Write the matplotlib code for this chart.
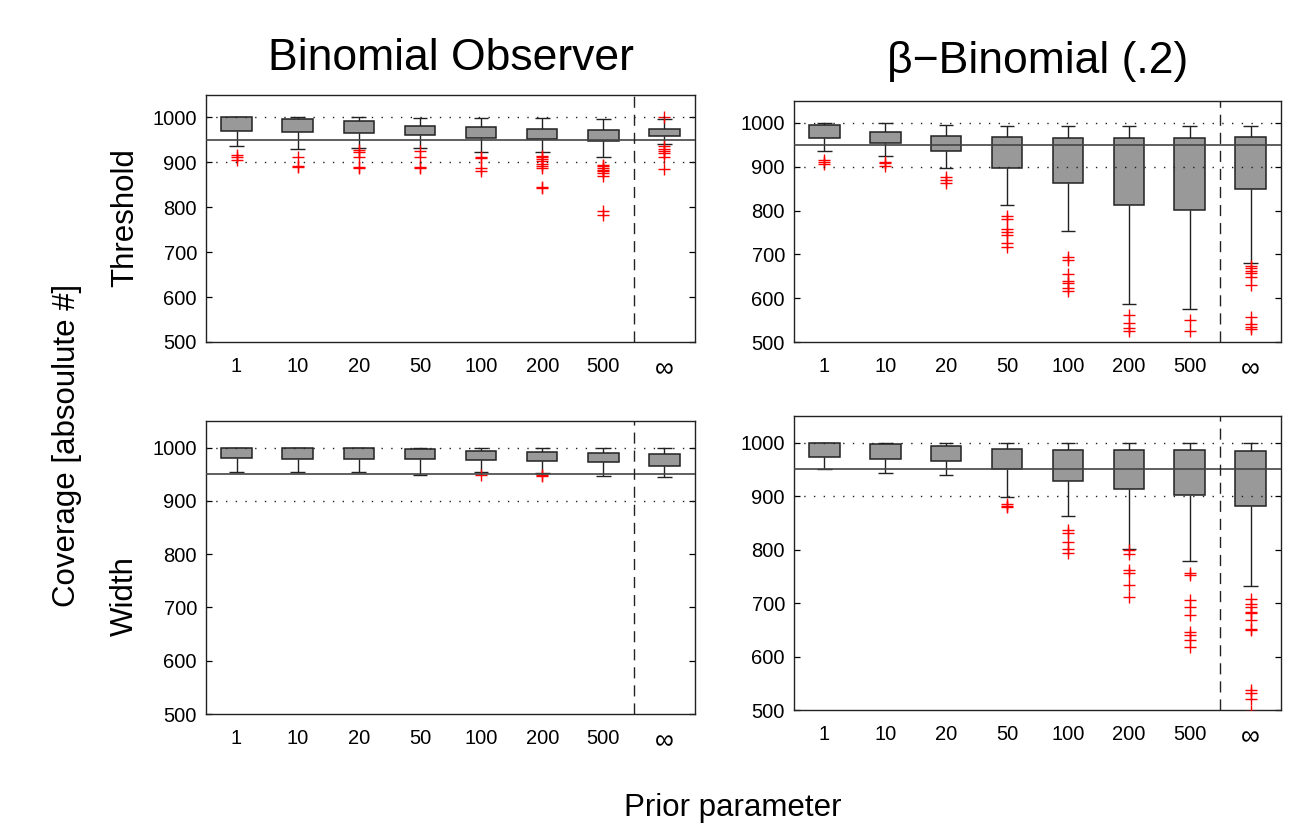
import matplotlib
matplotlib.use('Agg')
import matplotlib.pyplot as plt
import numpy as np

plt.rcParams['font.family'] = ['Liberation Sans', 'DejaVu Sans']

categories = ['1', '10', '20', '50', '100', '200', '500', '\u221e']

# ---- Binomial Observer, Threshold ----
bo_thr_q1 = [969, 967, 965, 960, 955, 951, 948, 959]
bo_thr_q3 = [1000, 996, 991, 982, 978, 974, 972, 975]
bo_thr_lo = [936, 930, 931, 931, 922, 922, 911, 942]
bo_thr_hi = [1000, 1000, 1000, 999, 998, 998, 997, 996]
bo_thr_out = [
    [916, 912, 905],
    [913, 893, 890],
    [928, 924, 913, 890, 888],
    [926, 913, 890, 888],
    [912, 910, 888, 880],
    [915, 911, 908, 902, 897, 893, 888, 845, 842],
    [895, 891, 887, 884, 880, 876, 870, 792, 782],
    [1000, 937, 930, 925, 921, 912, 886],
]

# ---- beta-Binomial (.2), Threshold ----
bb_thr_q1 = [966, 955, 937, 897, 862, 813, 802, 850]
bb_thr_q3 = [996, 979, 970, 967, 966, 966, 966, 967]
bb_thr_lo = [936, 925, 896, 813, 754, 586, 576, 680]
bb_thr_hi = [1000, 1000, 995, 993, 993, 993, 993, 993]
bb_thr_out = [
    [915, 911, 906],
    [911, 908, 902],
    [876, 870, 862],
    [788, 780, 758, 752, 745, 725, 716],
    [694, 686, 656, 639, 635, 624, 616],
    [561, 543, 533, 524],
    [551, 525],
    [673, 668, 662, 658, 648, 631, 556, 540, 535, 529],
]

# ---- Binomial Observer, Width ----
bo_wid_q1 = [980, 979, 978, 978, 976, 975, 973, 966]
bo_wid_q3 = [1000, 1000, 999, 998, 994, 992, 990, 988]
bo_wid_lo = [954, 954, 954, 948, 954, 952, 947, 944]
bo_wid_hi = [1000, 1000, 1000, 1000, 1000, 1000, 1000, 1000]
bo_wid_out = [
    [], [], [], [],
    [949],
    [948, 947],
    [], [],
]

# ---- beta-Binomial (.2), Width ----
bb_wid_q1 = [973, 970, 966, 951, 929, 913, 902, 882]
bb_wid_q3 = [1000, 998, 993, 989, 987, 987, 987, 984]
bb_wid_lo = [950, 944, 939, 899, 862, 802, 779, 732]
bb_wid_hi = [1000, 1000, 1000, 1000, 1000, 1000, 1000, 1000]
bb_wid_out = [
    [], [], [],
    [885, 882, 879],
    [837, 832, 814, 802, 794],
    [799, 791, 761, 757, 734, 712],
    [756, 752, 706, 693, 678, 646, 640, 631, 617],
    [707, 699, 692, 684, 681, 669, 652, 649, 537, 531, 521, 499],
]

W, H = 1306, 827
fig = plt.figure(figsize=(W / 100, H / 100), dpi=100)


def add_ax(left, right, top, bottom):
    return fig.add_axes([left / W, 1 - bottom / H, (right - left) / W, (bottom - top) / H])


def draw_panel(ax, q1, q3, lo, hi, out):
    x = np.arange(1, len(categories) + 1)
    ec = '#222222'
    ax.vlines(x, lo, q1, color=ec, lw=1.0, zorder=2)
    ax.vlines(x, q3, hi, color=ec, lw=1.0, zorder=2)
    ax.hlines(lo, x - 0.12, x + 0.12, color=ec, lw=1.0, zorder=2)
    ax.hlines(hi, x - 0.12, x + 0.12, color=ec, lw=1.0, zorder=2)
    ax.bar(x, np.subtract(q3, q1), bottom=q1, width=0.5, color='#999999',
           edgecolor=ec, linewidth=1.1, zorder=3)
    for xi, o in zip(x, out):
        if len(o):
            ax.plot([xi] * len(o), o, linestyle='none', marker='+', color='red',
                    ms=9, mew=1.0, zorder=4, clip_on=True)
    ax.axhline(950, color='#444444', lw=1.2, zorder=5)
    for yv in (1000, 900):
        ax.axhline(yv, color='#222222', lw=1.0, linestyle=(0, (1, 6)), zorder=5)
    ax.axvline(7.5, color='#222222', lw=1.0, linestyle=(0, (8, 5)), zorder=5)
    ax.set_xlim(0.5, 8.5)
    ax.set_ylim(500, 1050)
    ax.set_xticks(x)
    ax.set_xticklabels(categories)
    ax.get_xticklabels()[-1].set_fontsize(19)
    ax.set_yticks([500, 600, 700, 800, 900, 1000])
    ax.tick_params(axis='x', length=0, pad=11, labelsize=14.5)
    ax.tick_params(axis='y', direction='in', length=4, width=0.9, right=True,
                   pad=6.5, labelsize=14.5)
    ax.get_xticklabels()[-1].set_fontsize(19)
    for s in ax.spines.values():
        s.set_linewidth(1.0)
        s.set_color('#222222')


ax_tl = add_ax(206, 695, 95, 342)
ax_tr = add_ax(794, 1281, 101, 342)
ax_bl = add_ax(206, 695, 421, 714)
ax_br = add_ax(794, 1281, 416, 710)

draw_panel(ax_tl, bo_thr_q1, bo_thr_q3, bo_thr_lo, bo_thr_hi, bo_thr_out)
draw_panel(ax_tr, bb_thr_q1, bb_thr_q3, bb_thr_lo, bb_thr_hi, bb_thr_out)
draw_panel(ax_bl, bo_wid_q1, bo_wid_q3, bo_wid_lo, bo_wid_hi, bo_wid_out)
draw_panel(ax_br, bb_wid_q1, bb_wid_q3, bb_wid_lo, bb_wid_hi, bb_wid_out)

fig.text(451 / W, 1 - 58 / H, 'Binomial Observer', ha='center', va='center', fontsize=32)
fig.text(1038 / W, 1 - 62 / H, '\u03b2\u2212Binomial (.2)', ha='center', va='center', fontsize=32)
fig.text(125 / W, 1 - 218 / H, 'Threshold', ha='center', va='center', rotation=90, fontsize=22.5)
fig.text(125 / W, 1 - 596 / H, 'Width', ha='center', va='center', rotation=90, fontsize=22.5)
fig.text(67 / W, 1 - 445 / H, 'Coverage [absoulute #]', ha='center', va='center', rotation=90, fontsize=22.5)
fig.text(733 / W, 1 - 808 / H, 'Prior parameter', ha='center', va='center', fontsize=22.5)

fig.savefig('out.png', dpi=100)
